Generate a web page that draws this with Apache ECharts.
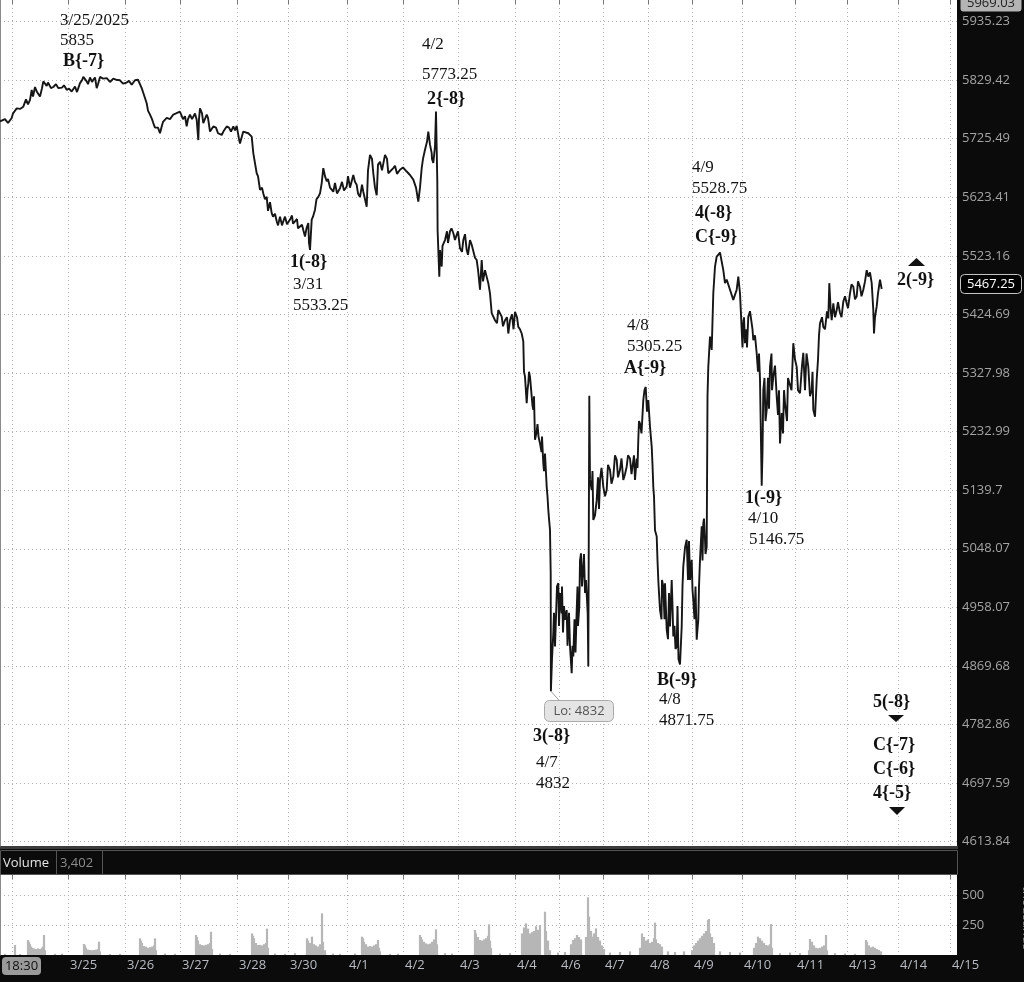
<!DOCTYPE html>
<html><head><meta charset="utf-8">
<script src="https://cdn.jsdelivr.net/npm/echarts@6/dist/echarts.min.js"></script>
<style>html,body{margin:0;padding:0;background:#0b0b0b;overflow:hidden}#c{width:1024px;height:982px}</style>
</head><body><div id="c"></div>
<script>
// ---------- DATA ----------
const dayTicks = [12, 68, 125, 180, 237, 288, 347, 403, 458, 515, 559, 603, 648, 692, 742, 795, 847, 898, 950];
const dayLabels = ['18:30','3/25','3/26','3/27','3/28','3/30','4/1','4/2','4/3','4/4','4/6','4/7','4/8','4/9','4/10','4/11','4/13','4/14','4/15'];
const priceTickLabels = ['4613.84','4697.59','4782.86','4869.68','4958.07','5048.07','5139.7','5232.99','5327.98','5424.69','5523.16','5623.41','5725.49','5829.42','5935.23'];
const axisLow = 4607.8;
const axisHigh = 5974.5;
const axisTopLabel = 5969.03;
const lastPrice = 5467.25;
const volumeTickLabels = [250, 500];
const volumeAxisMax = 667;
const volumeHeaderValue = '3,402';
const cursorTime = '18:30';
const lowCallout = 'Lo: 4832';

// main swing points of the price line (bar index, price)
const barIndex = [0,11.7,16.7,23.3,30,31.7,35,40,43.3,46.7,53.3,58.3,66.7,71.7,80,83.3,86.7,90,93.3,96.7,100,106.7,113.3,120,126.7,131.7,135,140,141.7,146.7,150,153.3,156.7,160,161.7,166.7,173.3,180,185,186.7,190,196.7,198.3,200,203.3,206.7,210,213.3,220,221.7,226.7,233.3,236.7,238.3,240,243.3,248.3,251.7,253.3,256.7,260,263.3,266.7,271.7,276.7,283.3,290,295,300,303.3,305,308.3,310,311.7,315,318.3,321.7,323.3,326.7,333.3,340,346.7,353.3,356.7,360,363.3,366.7,370,373.3,376.7,380,385,388.3,393.3,400,406.7,413.3,418.3,421.7,425,428.3,431.7,433.3,435,436,437.3,437.6,439.3,440,441.7,445,450,453.3,456.7,460,463.3,466.7,471.7,476.7,480,481.7,485,488.3,491.7,495,498.3,501.7,505,508.3,510,515,518.3,521.7,523.3,525,526.7,528.3,530,531.7,533.3,535,536.7,540,543.3,545,546.7,548.3,550,550.7,550.9,553.3,555,558.3,560,561.7,565,566.7,570,571.7,573.3,576.7,579.3,581,583.3,586,587.7,588.3,589.3,590,591.7,593.3,596.7,600,603.3,606.7,610,613.3,616.7,620,623.3,626.7,630,633.3,635,636.7,638.3,640,643.3,645.7,648.3,650,651.7,653.3,655,656.7,658.3,660,663.3,666.7,670,671.7,673.3,676.7,680,681.7,683.3,686.7,690,691.7,693.3,696.7,698.3,700,701.7,703.3,705,706.7,707.5,708.3,710,711.7,713.3,715,716.7,720,723.3,725,726.7,730,733.3,736.7,738.3,740,741.7,743.3,745,748.3,751.7,753.3,756.7,760,761.7,763.3,766.7,770,773.3,776.7,780,781.7,785,790,793.3,796.7,800,803.3,808.3,811.7,813.3,815,816.7,820,823.3,828.3,829.3,830.7,831.7,833.3,836.7,840,843.3,846.7,850,853.3,856.7,860,863.3,866.7,868.3,871.7,873.3,874,876.7,880,881.7];
const closePrice = [5756,5762,5779,5782,5794,5812,5817,5800,5827,5819,5817,5815,5812,5809,5824,5835,5827,5834,5830,5815,5835,5833,5832,5829,5825,5821,5829,5832,5815,5788,5768,5753,5747,5735,5747,5762,5768,5773,5765,5747,5768,5759,5723,5779,5753,5768,5738,5747,5738,5732,5747,5747,5748,5732,5717,5738,5735,5729,5700,5665,5636,5630,5624,5596,5582,5582,5585,5582,5573,5567,5556,5579,5533.25,5585,5602,5624,5648,5674,5651,5633,5639,5642,5662,5645,5624,5633,5607,5697,5665,5627,5685,5697,5665,5674,5671,5668,5654,5616,5674,5706,5738,5700,5683,5712,5773.25,5651,5567,5488,5533,5505,5550,5565,5562,5559,5536,5550,5533,5542,5516,5466,5516,5499,5477,5427,5415,5432,5421,5415,5393,5415,5429,5404,5393,5380,5322,5279,5311,5322,5290,5268,5220,5233,5214,5182,5198,5145,5109,5077,5010,4832,4919,4899,4995,4980,4949,4939,4954,4899,4859,4884,4954,4959,5041,5021,5000,4949,4869,5291,5156,5140,5093,5124,5156,5145,5140,5172,5161,5188,5172,5156,5177,5190,5167,5156,5190,5220,5246,5284,5305.25,5284,5241,5209,5145,5077,5067,5000,4954,4990,4924,4929,5000,4914,4899,4871.75,4929,5021,5062,5000,5031,4969,4909,4939,5031,5083,5088,5062,5051,5290,5338,5388,5366,5460,5505,5522,5528.75,5499,5477,5483,5466,5449,5466,5488,5460,5399,5410,5377,5421,5427,5382,5360,5317,5146.75,5300,5268,5338,5322,5290,5214,5263,5279,5322,5377,5338,5295,5361,5338,5300,5268,5257,5317,5410,5404,5418,5477,5432,5415,5443,5432,5427,5446,5443,5460,5471,5455,5471,5466,5499,5488,5477,5432,5393,5438,5483,5467.25];
// intermediate wiggles (bar index, price)
const barIndexDetail = [5,8,13,20,26,28,33,37,42,48,51,56,62,64,69,75,77,82,88,92,95,98,103,110,116,123,129,133,138,143,148,152,155,158,163,170,176,183,188,192,195,199,202,205,208,212,216,218,224,229,231,235,239,242,245,250,258,262,265,268,270,273,275,278,280,282,285,287,292,293,297,298,302,306.5,309,313,316.5,320,325,328,330,335,337,342,344,348,350,355,358,362,365,368,372,375,378,382,387,390,395,397,403,410,416,420,423,427,430,432,442.5,447,448,451.5,455,458,462,465,468,470,473,475,478,483,486.5,490,493,497,500,503,507,512,513.5,517,520,524,527.5,529,532.5,534,537.5,538.5,541.5,542,544,547.5,549,552,554,556,557,559,562,563,564,567.5,569,572.5,574.5,575.5,577.5,578,580,582,584,585,592.5,595,598,599,601.5,605,608,611.5,615,618,621.5,625,628,631.5,634,637.5,639,641.5,644.5,647,652.5,654,657.5,659,661.5,662,664.5,665,668,669,672.5,674.5,675.5,677.5,678.5,682.5,685,688,689,692.5,694.5,695.5,697.5,699,702.5,704,705.5,742.5,744,746.5,747,750,752.5,755,758,759,762.5,764.5,765.5,768,769,771.5,772,775,778,779,783,784,787,788,791.5,795,798,802,805,806.5,810,812.5,818,819,822,825,827,835,838,841.5,845,848,851.5,855,858,861.5,865,870,875,878];
const closeDetail = [5760,5753,5770,5778,5795,5786,5800,5808,5815,5825,5815,5822,5816,5820,5814,5818,5808,5829,5822,5826,5834,5822,5832,5826,5830,5823,5828,5818,5830,5808,5775,5760,5745,5745,5755,5760,5770,5760,5760,5760,5770,5760,5770,5755,5762,5740,5745,5735,5740,5745,5738,5740,5725,5730,5740,5738,5660,5640,5620,5600,5615,5590,5595,5575,5590,5575,5590,5577,5592,5578,5586,5570,5576,5570,5545,5590,5620,5630,5660,5655,5640,5648,5630,5650,5635,5660,5640,5650,5630,5645,5620,5670,5690,5640,5680,5670,5690,5665,5678,5664,5675,5662,5640,5640,5690,5720,5715,5690,5540,5565,5545,5570,5550,5565,5530,5560,5525,5550,5540,5520,5500,5480,5500,5460,5430,5410,5435,5405,5420,5425,5400,5420,5400,5330,5300,5330,5275,5290,5245,5225,5200,5225,5170,5130,5095,4880,4950,4900,4990,4930,4990,4920,4960,4900,4950,4900,4940,4890,4990,4930,5030,4990,5040,4980,5170,5100,5160,5110,5175,5130,5180,5150,5195,5160,5190,5165,5195,5165,5195,5175,5250,5230,5300,5265,5180,5130,5030,4980,4940,5000,4940,4995,4910,4980,4960,4930,4895,4960,4880,4990,5050,5000,5060,4985,4940,4990,4925,4990,5030,5095,5040,5370,5420,5400,5370,5430,5400,5390,5330,5360,5200,5320,5250,5320,5270,5360,5300,5340,5260,5300,5230,5300,5250,5320,5300,5350,5300,5340,5300,5360,5290,5330,5350,5390,5420,5400,5430,5420,5445,5420,5455,5435,5475,5450,5480,5455,5480,5495,5420,5460];

const volBar = [5,15,20,28,29,30,31,32,34,36,38,40,42,43,44,45,55,62,84,85,86,88,90,92,94,96,98,99,100,110,120,140,141,142,144,146,148,150,152,154,155,156,165,175,196,197,198,200,202,204,206,208,210,211,212,220,230,252,253,254,256,258,260,262,264,266,267,268,275,285,295,307,308,310,312,314,316,318,320,322,323,325,333,340,355,362,363,364,366,368,370,372,374,376,378,379,380,390,398,420,421,422,424,426,428,430,432,434,436,437,445,452,475,476,478,480,482,484,486,488,489,490,491,500,510,522,524,526,528,530,532,534,536,538,540,545,546,548,550,558,565,571,573,575,577,579,581,586,588,589,591,592,594,596,598,600,602,604,610,620,630,640,642,644,646,648,650,652,654,655,656,658,660,662,668,675,684,692,694,696,698,700,702,704,706,708,709,710,712,714,720,730,740,754,756,758,760,762,764,766,768,770,771,772,780,790,800,809,810,812,814,816,818,820,822,824,826,827,835,845,855,866,867,869,871,873,875,877,879,881];
const volValue = [10,83,8,125,110,90,70,60,55,50,55,50,60,70,167,40,10,12,92,80,60,45,42,40,42,45,50,111,30,8,10,139,120,100,75,69,60,65,70,80,139,40,12,10,167,150,120,90,83,80,85,90,100,194,50,12,10,180,160,140,100,83,85,80,90,100,220,60,12,10,15,139,120,100,153,90,80,70,90,347,110,40,12,10,12,153,140,110,90,70,75,70,80,90,125,60,30,10,12,167,150,130,110,97,90,95,110,130,214,90,15,12,208,180,150,125,120,130,140,160,256,120,60,12,15,180,230,264,220,180,190,200,240,210,250,361,200,120,40,20,25,90,125,140,167,150,130,150,481,320,200,153,180,222,150,120,80,50,20,25,30,60,180,150,120,130,100,110,140,270,130,100,90,70,30,25,30,40,80,100,120,140,160,180,200,292,300,180,150,100,30,25,20,60,100,153,140,120,100,83,80,90,258,60,15,20,15,40,133,110,80,60,56,60,70,80,167,40,15,12,10,125,110,80,64,70,60,50,42,30];

const annotations = [
  ['3/25/2025', false], ['5835', false], ['B{-7}', true],
  ['4/2', false], ['5773.25', false], ['2{-8}', true],
  ['1(-8}', true], ['3/31', false], ['5533.25', false],
  ['4/9', false], ['5528.75', false], ['4(-8}', true], ['C{-9}', true],
  ['4/8', false], ['5305.25', false], ['A{-9}', true],
  ['1(-9}', true], ['4/10', false], ['5146.75', false],
  ['B(-9}', true], ['4/8', false], ['4871.75', false],
  ['3(-8}', true], ['4/7', false], ['4832', false],
  ['5(-8}', true], ['C{-7}', true], ['C{-6}', true], ['4{-5}', true],
  ['2(-9}', true]
];
// ---------- LAYOUT (pixel positions of annotation text: left x, middle y) ----------
const annoPos = [
  [60,21],[60,41],[63,61],
  [422,45],[422,75],[427,99],
  [290,262],[293,285],[293,306],
  [692,168],[692,189],[695,213],[695,237],
  [627,326],[627,347],[624,368],
  [745,498],[748,519],[749,540],
  [657,680],[659,700],[659,721],
  [533,736],[536,763],[536,784],
  [873,702],[873,745],[873,769],[873,793],
  [897,280]
];

const LN = Math.log;
const tickLn = priceTickLabels.map(s => LN(parseFloat(s)));
const pricePairs = barIndex.map((x, i) => [x, closePrice[i]])
  .concat(barIndexDetail.map((x, i) => [x, closeDetail[i]]))
  .sort((a, b) => a[0] - b[0]);
const priceData = pricePairs.map(p => [p[0], LN(p[1])]);
const volData = volBar.map((x, i) => [x, volValue[i]]);

const dotted = {color: '#b0b0b0', type: [1, 3], width: 1};
const axisGrey = '#8a8a8a';

const option = {
  backgroundColor: '#0b0b0b',
  animation: false,
  grid: [
    {left:0, top:0, width:957, height:846, show:true, backgroundColor:'#ffffff', borderWidth:0},
    {left:0, top:875, width:957, height:80, show:true, backgroundColor:'#ffffff', borderWidth:0}
  ],
  xAxis: [
    {type:'value', gridIndex:0, min:0, max:957, position:'top',
     axisLine:{show:false}, axisLabel:{show:false},
     axisTick:{show:true, inside:true, length:4, customValues:dayTicks, lineStyle:{color:'#777'}},
     splitLine:{show:true, lineStyle:dotted}},
    {type:'value', gridIndex:1, min:0, max:957, position:'bottom',
     axisLine:{show:false}, axisTick:{show:false, customValues:dayTicks},
     axisLabel:{customValues:dayTicks.slice(1), formatter:v => {const i = dayTicks.indexOf(v); return i >= 0 ? dayLabels[i] : '';},
       color:'#b8bcc2', fontFamily:'Open Sans', fontSize:13, align:'left', margin:4, padding:[0,0,0,2]},
     splitLine:{show:true, lineStyle:dotted}},
    {type:'value', gridIndex:1, min:0, max:957, position:'top',
     axisLine:{show:false}, axisLabel:{show:false},
     axisTick:{show:true, inside:true, length:4, customValues:dayTicks, lineStyle:{color:'#777'}},
     splitLine:{show:false}}
  ],
  yAxis: [
    {type:'value', gridIndex:0, position:'right', min:LN(axisLow), max:LN(axisHigh),
     axisLine:{show:true, lineStyle:{color:axisGrey}},
     axisTick:{show:true, inside:true, length:4, customValues:tickLn, lineStyle:{color:axisGrey}},
     axisLabel:{customValues:tickLn, formatter:v => {let best = -1, d = 1; tickLn.forEach((t, i) => {if (Math.abs(t - v) < d) {d = Math.abs(t - v); best = i;}}); return d < 1e-6 ? priceTickLabels[best] : '';},
       color:'#a4a4a4', fontFamily:'Open Sans', fontSize:13, margin:5},
     splitLine:{show:true, lineStyle:dotted}},
    {type:'value', gridIndex:1, position:'right', min:0, max:volumeAxisMax,
     axisLine:{show:true, lineStyle:{color:axisGrey}},
     axisTick:{show:true, inside:true, length:4, customValues:volumeTickLabels, lineStyle:{color:axisGrey}},
     axisLabel:{customValues:volumeTickLabels, color:'#a4a4a4', fontFamily:'Open Sans', fontSize:13, margin:5},
     splitLine:{show:true, lineStyle:dotted}}
  ],
  series: [
    {type:'line', xAxisIndex:0, yAxisIndex:0, data:priceData, showSymbol:false, symbol:'none',
     lineStyle:{color:'#161616', width:1.9}, silent:true},
    {type:'bar', xAxisIndex:1, yAxisIndex:1, data:volData, barWidth:2.2, itemStyle:{color:'#b6b6b6'}, silent:true}
  ]
};
const chart = echarts.init(document.getElementById('c'), null, {width:1024, height:982});
chart.setOption(option);

// ---------- overlays (positions from the chart's own scales where tied to values) ----------
const yTop = chart.convertToPixel({yAxisIndex:0}, LN(axisTopLabel));
const yLast = chart.convertToPixel({yAxisIndex:0}, LN(lastPrice));
const lowPt = chart.convertToPixel({xAxisIndex:0, yAxisIndex:0}, [550.9, LN(4832)]);
const mid = {verticalAlign:'middle', textVerticalAlign:'middle'};
const ctr = {align:'center', textAlign:'center'};
const graphics = [];
graphics.push({type:'rect', shape:{x:0, y:846, width:958, height:3}, style:{fill:'#3c3c3c'}, silent:true});
graphics.push({type:'rect', shape:{x:0.5, y:850.5, width:957, height:24}, style:{fill:'#0b0b0b', stroke:'#555', lineWidth:1}, silent:true});
graphics.push({type:'line', shape:{x1:56.5, y1:851, x2:56.5, y2:874}, style:{stroke:'#555', lineWidth:1}, silent:true});
graphics.push({type:'line', shape:{x1:102.5, y1:851, x2:102.5, y2:874}, style:{stroke:'#555', lineWidth:1}, silent:true});
graphics.push({type:'text', x:3, y:863, style:Object.assign({text:'Volume', fill:'#e4e4e4', font:'13px "Open Sans"'}, mid), silent:true});
graphics.push({type:'text', x:60, y:863, style:Object.assign({text:volumeHeaderValue, fill:'#8c8c8c', font:'13px "Open Sans"'}, mid), silent:true});
graphics.push({type:'rect', shape:{x:2, y:957, width:39, height:18, r:4}, style:{fill:'#9a9a9a'}, silent:true});
graphics.push({type:'text', x:21.5, y:966, style:Object.assign({text:cursorTime, fill:'#111', font:'13px "Open Sans"'}, ctr, mid), silent:true});
graphics.push({type:'text', x:1027, y:918, rotation:-Math.PI/2, style:Object.assign({text:'<thousands>', fill:'#8c8c8c', font:'13px "Open Sans"'}, ctr, mid), silent:true});
// axis max label and last price label
graphics.push({type:'rect', shape:{x:960.5, y:yTop - 7.5, width:61, height:16, r:3}, style:{fill:'#b4b4b4'}, silent:true});
graphics.push({type:'text', x:991, y:yTop + 0.5, style:Object.assign({text:String(axisTopLabel), fill:'#222', font:'13px "Open Sans"'}, ctr, mid), silent:true});
graphics.push({type:'rect', shape:{x:960.5, y:yLast - 14.5, width:61, height:19, r:4}, style:{fill:'#000', stroke:'#c8c8c8', lineWidth:1}, silent:true});
graphics.push({type:'text', x:991, y:yLast - 5, style:Object.assign({text:lastPrice.toFixed(2), fill:'#fff', font:'13px "Open Sans"'}, ctr, mid), silent:true});
// annotations
annotations.forEach((a, i) => {
  graphics.push({type:'text', x:annoPos[i][0], y:annoPos[i][1], style:Object.assign({text:a[0], fill:'#111', font:(a[1] ? 'bold 18px' : '17px') + ' "Liberation Serif"'}, mid), silent:true});
});
graphics.push({type:'polygon', shape:{points:[[908,266],[925,266],[916.5,258]]}, style:{fill:'#111'}, silent:true});
graphics.push({type:'polygon', shape:{points:[[888,715],[904,715],[896,722]]}, style:{fill:'#111'}, silent:true});
graphics.push({type:'polygon', shape:{points:[[889,807],[905,807],[897,815]]}, style:{fill:'#111'}, silent:true});
// low callout
graphics.push({type:'line', shape:{x1:lowPt[0], y1:lowPt[1], x2:lowPt[0] + 10, y2:lowPt[1] + 11}, style:{stroke:'#999', lineWidth:1}, silent:true});
graphics.push({type:'rect', shape:{x:544.5, y:700.5, width:69, height:21, r:5}, style:{fill:'#e4e4e4', stroke:'#aaa', lineWidth:1}, silent:true});
graphics.push({type:'text', x:579, y:711.5, style:Object.assign({text:lowCallout, fill:'#555', font:'13px "Open Sans"'}, ctr, mid), silent:true});
chart.setOption({graphic: graphics});
</script>
</body></html>
